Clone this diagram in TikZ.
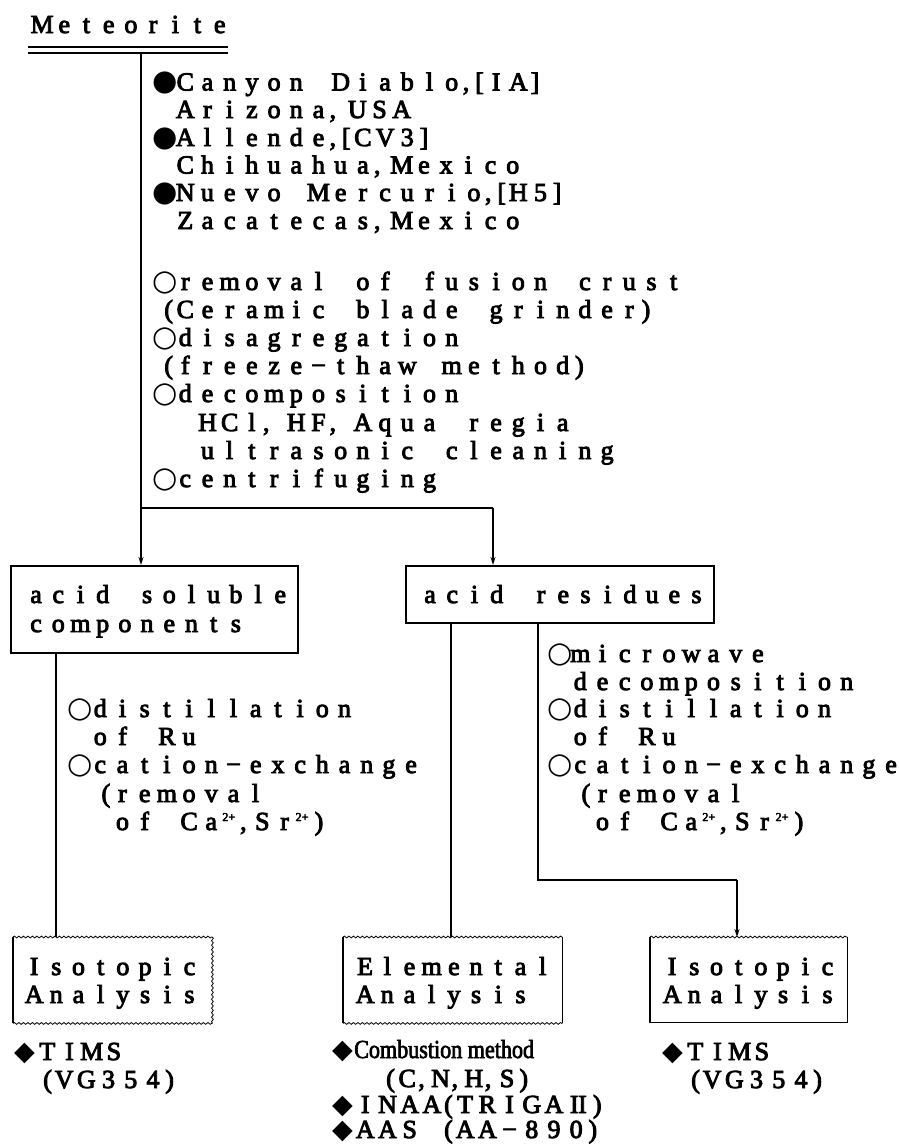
\documentclass[tikz,border=0pt]{standalone}
\usepackage{fontspec}
\setmainfont{Liberation Serif}[FakeBold=3.5]
\newfontfamily\symf{DejaVu Sans}
\newfontfamily\condf{Liberation Serif}[FakeStretch=0.85,FakeBold=2.5]
\usetikzlibrary{decorations.pathmorphing,arrows.meta}
\newlength\monopitch
\setlength\monopitch{22.2pt}
\newcommand\msp{\hspace*{\monopitch}}
\newcommand\hh{\hspace*{0.5\monopitch}}
\newcommand\qs{\hspace*{0.25\monopitch}}
\newcommand\bulB{\makebox[\monopitch][l]{\symf\fontsize{29}{29}\selectfont ●}}
\newcommand\bulW{\makebox[\monopitch][l]{\symf\fontsize{29}{29}\selectfont ○}}
\newcommand\bulD{\makebox[\monopitch][l]{\symf\fontsize{27}{27}\selectfont ◆}}
\newcommand\supTP{\makebox[0.8\monopitch][l]{\raisebox{9pt}{\fontsize{12}{12}\selectfont 2+}}}
\newcommand\romII{\makebox[1.2\monopitch][c]{I\kern-0.5pt I}}
\ExplSyntaxOn
\tl_new:N \l__mymono_tl
\cs_new_protected:Npn \__mymono_plain:n #1
 {
  \str_case:nnF {#1}
   {
    {,} { \makebox[0.5\monopitch][l]{,} }
    {(} { \makebox[0.5\monopitch][c]{(} }
    {)} { \makebox[0.5\monopitch][c]{)} }
    {[} { \makebox[0.5\monopitch][c]{[} }
    {]} { \makebox[0.5\monopitch][c]{]} }
   }
   { \makebox[\monopitch][c]{#1} }
 }
\cs_new_protected:Npn \__mymono_char:n #1
 {
  \tl_if_single_token:nTF {#1}
   {
    \token_if_cs:NTF #1
     { #1 }
     { \__mymono_plain:n {#1} }
   }
   { \__mymono_plain:n {#1} }
 }
\NewDocumentCommand \mono { m }
 {
  \tl_set:Nn \l__mymono_tl {#1}
  \tl_replace_all:Nnn \l__mymono_tl { ~ } { \msp }
  \tl_map_inline:Nn \l__mymono_tl { \__mymono_char:n {##1} }
 }
\ExplSyntaxOff
\begin{document}
\begin{tikzpicture}[x=1pt, y=-1pt,
  txt/.style={anchor=base west, inner sep=0pt, outer sep=0pt, font=\fontsize{26}{28}\selectfont},
  ln/.style={line width=1.8pt},
  arr/.style={line width=1.8pt, -{Stealth[length=8pt,width=5pt]}},
  boxn/.style={draw, line width=1.8pt, inner sep=0pt, anchor=north west},
  wbox/.style={inner sep=0pt, anchor=north west},
  wavy/.style={line width=0.8pt, decorate, decoration={snake, segment length=4.5pt, amplitude=0.9pt}},
  side/.style={line width=1.6pt}]
\useasboundingbox (0,0) rectangle (898,1144);

% title
\node[txt] (met) at (31,33) {\mono{Meteorite}};
\coordinate (ulA) at (28,47);
\coordinate (ulB) at (228,47);
\coordinate (ulC) at (28,53);
\coordinate (ulD) at (228,53);
\draw[line width=1.8pt] (ulA) -- (ulB);
\draw[line width=1.8pt] (ulC) -- (ulD);

% top block
\node[txt] (t1) at (152,90.5) {\mono{\bulB Canyon Diablo,[IA]}};
\node[txt] (t2) at (152,118) {\mono{\msp Arizona,\qs USA}};
\node[txt] (t3) at (152,146) {\mono{\bulB Allende,[CV3]}};
\node[txt] (t4) at (152,173.5) {\mono{\msp Chihuahua,\qs Mexico}};
\node[txt] (t5) at (152,201) {\mono{\bulB Nuevo Mercurio,[H5]}};
\node[txt] (t6) at (152,229) {\mono{\msp Zacatecas,\qs Mexico}};
\node[txt] (t7) at (152,290) {\mono{\bulW removal of fusion crust}};
\node[txt] (t8) at (152,318) {\mono{\hh(Ceramic blade grinder)}};
\node[txt] (t9) at (152,346) {\mono{\bulW disagregation}};
\node[txt] (t10) at (152,374) {\mono{\hh(freeze−thaw method)}};
\node[txt] (t11) at (152,402) {\mono{\bulW decomposition}};
\node[txt] (t12) at (152,431) {\mono{\msp\msp HCl,\hh HF,\hh Aqua regia}};
\node[txt] (t13) at (152,459) {\mono{\msp\msp ultrasonic cleaning}};
\node[txt] (t14) at (152,487) {\mono{\bulW centrifuging}};

% boxes
\node[boxn, minimum width=287pt, minimum height=87pt] (asc) at (10,565) {};
\node[txt] (asc1) at (25,603) {\mono{acid soluble}};
\node[txt] (asc2) at (25,632) {\mono{components}};
\node[boxn, minimum width=308pt, minimum height=57pt] (ares) at (405,565) {};
\node[txt] (ares1) at (419,603) {\mono{acid residues}};

% connectors top
\coordinate (top) at (141,53);
\coordinate (j1) at (141,508);
\coordinate (j2) at (493,508);
\draw[ln] (top) -- (j1);
\draw[arr] (j1) -- (asc.north -| j1);
\draw[ln] (j1) -- (j2);
\draw[arr] (j2) -- (ares.north -| j2);

% left middle text
\node[txt] (l1) at (67,717) {\mono{\bulW distillation}};
\node[txt] (l2) at (67,745) {\mono{\msp of Ru}};
\node[txt] (l3) at (67,773) {\mono{\bulW cation−exchange}};
\node[txt] (l4) at (67,802) {\mono{\msp\hh(removal}};
\node[txt] (l5) at (67,830) {\mono{\msp\msp of Ca\supTP,Sr\supTP)}};

% right middle text
\node[txt] (r1) at (547,662) {\mono{\bulW microwave}};
\node[txt] (r2) at (547,690) {\mono{\msp decomposition}};
\node[txt] (r3) at (547,717) {\mono{\bulW distillation}};
\node[txt] (r4) at (547,745) {\mono{\msp of Ru}};
\node[txt] (r5) at (547,773) {\mono{\bulW cation−exchange}};
\node[txt] (r6) at (547,802) {\mono{\msp\hh(removal}};
\node[txt] (r7) at (547,830) {\mono{\msp\msp of Ca\supTP,Sr\supTP)}};

% bottom boxes
\node[wbox, minimum width=199pt, minimum height=86pt] (iso1) at (13,937) {};
\draw[side] (iso1.north west) -- (iso1.south west);
\draw[wavy] (iso1.north west) -- (iso1.north east);
\draw[wavy] (iso1.north east) -- (iso1.south east);
\draw[wavy] (iso1.south west) -- (iso1.south east);
\node[txt] (iso1a) at (23,975) {\mono{Isotopic}};
\node[txt] (iso1b) at (23,1003) {\mono{Analysis}};

\node[wbox, minimum width=219pt, minimum height=86pt] (elem) at (343,937) {};
\draw[side] (elem.north west) -- (elem.south west);
\draw[side] (elem.north east) -- (elem.south east);
\draw[wavy] (elem.north west) -- (elem.north east);
\draw[wavy] (elem.south west) -- (elem.south east);
\node[txt] (elema) at (354,975) {\mono{Elemental}};
\node[txt] (elemb) at (354,1003) {\mono{Analysis}};

\node[wbox, minimum width=197pt, minimum height=85pt] (iso2) at (650,937) {};
\draw[side] (iso2.north west) -- (iso2.south west) -- (iso2.south east) -- (iso2.north east);
\draw[wavy] (iso2.north west) -- (iso2.north east);
\node[txt] (iso2a) at (661,975) {\mono{Isotopic}};
\node[txt] (iso2b) at (661,1003) {\mono{Analysis}};

% lower connectors
\coordinate (c1) at (56,700);
\coordinate (c2) at (451,700);
\coordinate (c3) at (538,700);
\coordinate (j3) at (737,880);
\draw[ln] (asc.south -| c1) -- (iso1.north -| c1);
\draw[ln] (ares.south -| c2) -- (elem.north -| c2);
\draw[ln] (ares.south -| c3) |- (j3);
\draw[arr] (j3) -- (iso2.north -| j3);

% methods
\node[txt] (m1) at (14,1060) {\mono{\bulD TIMS}};
\node[txt] (m2) at (42,1088) {\mono{(VG354)}};
\node[txt] (m3) at (332,1058) {\makebox[\monopitch][l]{\symf\fontsize{27}{27}\selectfont ◆}{\condf\fontsize{26}{28}\selectfont Combustion method}};
\node[txt] (m4) at (385,1087) {\mono{(C,N,H,S)}};
\node[txt] (m5) at (332,1113) {\mono{\bulD INAA(TRIGA\romII)}};
\node[txt] (m6) at (332,1138) {\mono{\bulD AAS\msp(AA−890)}};
\node[txt] (m7) at (662,1060) {\mono{\bulD TIMS}};
\node[txt] (m8) at (690,1088) {\mono{(VG354)}};
\end{tikzpicture}
\end{document}
